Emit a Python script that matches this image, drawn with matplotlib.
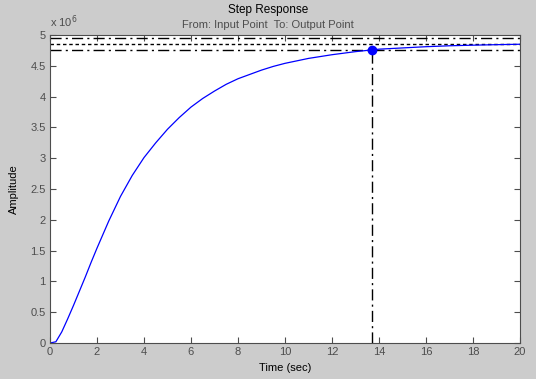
import matplotlib
matplotlib.use("Agg")
import matplotlib.pyplot as plt

# step response (amplitude in units of 1e6)
time_s = [0, 0.25, 0.5, 0.75, 1.0, 1.25, 1.5, 1.75, 2.0, 2.5,
          3.0, 3.5, 4.0, 4.5, 5.0, 5.5, 6.0, 6.5, 7.0, 7.5,
          8.0, 8.5, 9.0, 9.5, 10, 10.5, 11, 12, 13, 14, 15, 16, 17, 18, 19, 20]
amplitude = [0, 0.02, 0.18, 0.39, 0.61, 0.84, 1.07, 1.31, 1.54, 1.98,
             2.38, 2.72, 3.01, 3.25, 3.47, 3.66, 3.83, 3.97, 4.09, 4.20,
             4.29, 4.36, 4.43, 4.49, 4.54, 4.58, 4.62, 4.68, 4.73, 4.77, 4.79, 4.81,
             4.825, 4.835, 4.843, 4.85]

final_value = 4.86
band_low = 4.763
band_high = 4.957
settling_time = 13.7

xticks = list(range(0, 21, 2))
yticks = [0, 0.5, 1, 1.5, 2, 2.5, 3, 3.5, 4, 4.5, 5]
ytick_labels = ["0", "0.5", "1", "1.5", "2", "2.5", "3", "3.5", "4", "4.5", "5"]

plt.rcParams['font.family'] = ['Liberation Sans', 'DejaVu Sans']
plt.rcParams['font.size'] = 8

bg = '#cccccc'
grey = '#4d4d4d'

fig = plt.figure(figsize=(5.36, 3.79), dpi=100, facecolor=bg)
ax = fig.add_axes([50 / 536, 36 / 379, 470 / 536, 308 / 379])
ax.set_facecolor('white')

# settling band and final value
dashdot = [8, 3, 1.5, 3]
ax.axhline(band_high, color='black', lw=1, dashes=dashdot)
ax.axhline(band_low, color='black', lw=1, dashes=dashdot)
ax.axhline(final_value, color='black', lw=1, dashes=[2.5, 2])
ax.plot([settling_time, settling_time], [0, band_low], color='black', lw=1,
        dashes=dashdot)

ax.plot(time_s, amplitude, color='#0000ff', lw=0.9)
ax.plot([settling_time], [band_low], 'o', color='#0000ff', ms=6)

ax.set_xlim(0, 20)
ax.set_ylim(0, 5)
ax.set_xticks(xticks)
ax.set_yticks(yticks)
ax.set_yticklabels(ytick_labels)
ax.tick_params(direction='in', length=4, top=True, right=True,
               colors=grey, labelcolor=grey, labelsize=8, pad=3)
for s in ax.spines.values():
    s.set_color(grey)

ax.set_xlabel("Time (sec)", color='black', fontsize=8, labelpad=4)
ax.set_ylabel("Amplitude", color='black', fontsize=8, labelpad=8)

fig.text(0.5, 1 - 10 / 379, "Step Response", ha='center', va='center',
         color='black', fontsize=8.5)
fig.text(0.5, 1 - 25 / 379, "From: Input Point  To: Output Point", ha='center',
         va='center', color=grey, fontsize=8)
fig.text(50 / 536, 1 - 22 / 379, r"x 10$^{6}$", ha='left', va='center',
         color=grey, fontsize=8)

fig.savefig("out.png", dpi=100, facecolor=bg)
